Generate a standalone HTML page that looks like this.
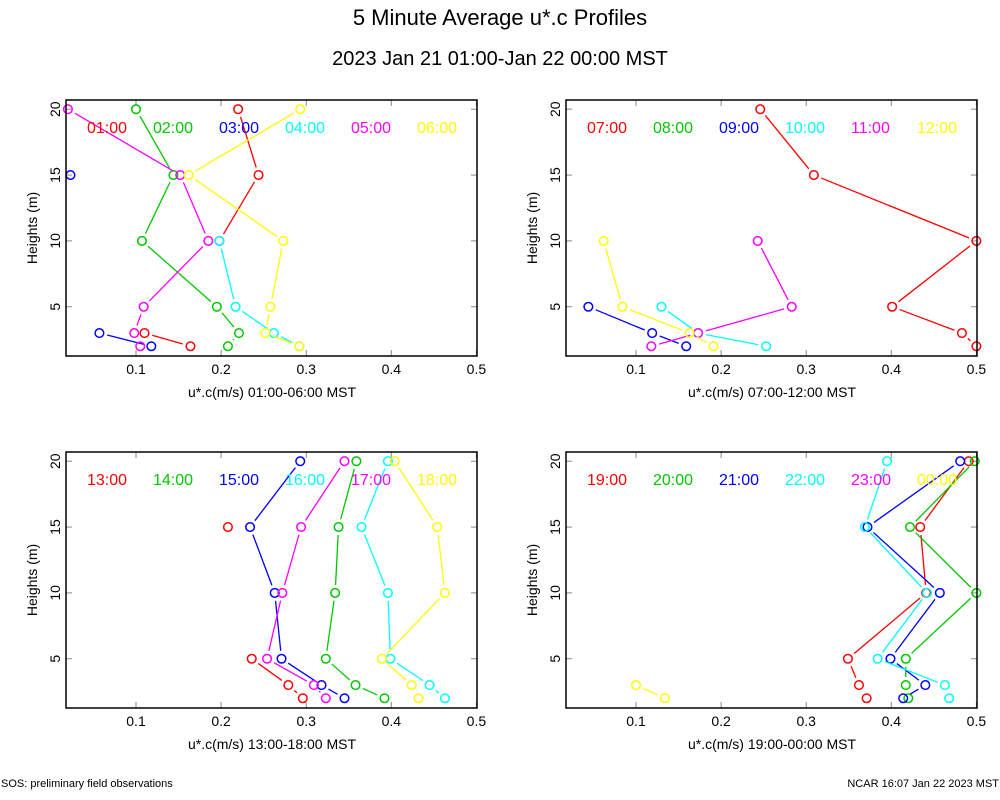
<!DOCTYPE html>
<html><head><meta charset="utf-8"><style>
html,body{margin:0;padding:0;background:#fff;}
svg{display:block;font-family:"Liberation Sans",sans-serif;}
</style></head><body>
<svg id="chart" width="1000" height="800" viewBox="0 0 1000 800" xmlns="http://www.w3.org/2000/svg">
<text x="500" y="25" font-size="22" text-anchor="middle">5 Minute Average u*.c Profiles</text>
<text x="500" y="65" font-size="20" text-anchor="middle">2023 Jan 21 01:00-Jan 22 00:00 MST</text>
<text x="1" y="787" font-size="11">SOS: preliminary field observations</text>
<text x="999" y="787" font-size="11" text-anchor="end">NCAR 16:07 Jan 22 2023 MST</text>
</svg>
<script>
const heights = [2, 3, 5, 10, 15, 20];
const xTicks = [0.1, 0.2, 0.3, 0.4, 0.5];
const yTicks = [5, 10, 15, 20];
const colors = ['#ff0000', '#00c800', '#0000ff', '#00ffff', '#ff00ff', '#ffff00'];
const panelTitles = ['u*.c(m/s) 01:00-06:00 MST', 'u*.c(m/s) 07:00-12:00 MST', 'u*.c(m/s) 13:00-18:00 MST', 'u*.c(m/s) 19:00-00:00 MST'];
const labels1 = ['01:00', '02:00', '03:00', '04:00', '05:00', '06:00'];
const labels2 = ['07:00', '08:00', '09:00', '10:00', '11:00', '12:00'];
const labels3 = ['13:00', '14:00', '15:00', '16:00', '17:00', '18:00'];
const labels4 = ['19:00', '20:00', '21:00', '22:00', '23:00', '00:00'];
const N = null;
const panel1 = [
  [0.164, 0.110, N, 0.198, 0.244, 0.220],
  [0.208, 0.221, 0.195, 0.107, 0.144, 0.100],
  [0.118, 0.057, N, N, 0.023, N],
  [0.292, 0.262, 0.217, 0.198, N, N],
  [0.105, 0.098, 0.109, 0.185, 0.152, 0.020],
  [0.292, 0.252, 0.258, 0.273, 0.162, 0.293]
];
const panel2 = [
  [0.500, 0.483, 0.401, 0.500, 0.309, 0.246],
  [N, N, N, N, N, N],
  [0.159, 0.119, 0.044, N, N, N],
  [0.253, 0.173, 0.130, N, N, N],
  [0.118, 0.173, 0.283, 0.243, N, N],
  [0.191, 0.163, 0.084, 0.062, N, N]
];
const panel3 = [
  [0.296, 0.279, 0.236, N, 0.208, N],
  [0.392, 0.358, 0.323, 0.334, 0.338, 0.359],
  [0.345, 0.318, 0.271, 0.263, 0.234, 0.293],
  [0.463, 0.445, 0.399, 0.396, 0.365, 0.396],
  [0.323, 0.309, 0.254, 0.272, 0.294, 0.345],
  [0.432, 0.424, 0.389, 0.463, 0.454, 0.404]
];
const panel4 = [
  [0.371, 0.362, 0.349, 0.441, 0.434, 0.491],
  [0.420, 0.417, 0.417, 0.500, 0.422, 0.498],
  [0.414, 0.440, 0.399, 0.457, 0.372, 0.481],
  [0.468, 0.463, 0.384, 0.442, 0.369, 0.395],
  [N, N, N, N, N, N],
  [0.134, 0.100, N, N, N, N]
];
const panels = [
  {ox: 0, oy: 0, data: panel1, labels: labels1, title: panelTitles[0], name: 'panel-01-06'},
  {ox: 500, oy: 352, data: panel4, labels: labels4, title: panelTitles[3], name: 'panel-19-00'},
  {ox: 500, oy: 0, data: panel2, labels: labels2, title: panelTitles[1], name: 'panel-07-12'},
  {ox: 0, oy: 352, data: panel3, labels: labels3, title: panelTitles[2], name: 'panel-13-18'}
];
const NS = 'http://www.w3.org/2000/svg';
const svg = document.getElementById('chart');
function mk(tag, attrs, parent) {
  const e = document.createElementNS(NS, tag);
  for (const k in attrs) e.setAttribute(k, attrs[k]);
  parent.appendChild(e);
  return e;
}
const L = 66, R = 477, T = 100, B = 356;
function xs(v, ox) { return ox + 50.9 + v * 851; }
function ys(h, oy) { return oy + 372.6 - h * 13.17; }
panels.forEach(p => {
  const g = mk('g', {}, svg);
  
  
  const ox = p.ox, oy = p.oy;
  // ticks
  xTicks.forEach(t => {
    const x = xs(t, ox);
    mk('line', {x1: x, x2: x, y1: oy + B, y2: oy + B - 6, stroke: '#888', 'stroke-width': 1}, g);
    mk('line', {x1: x, x2: x, y1: oy + T, y2: oy + T + 6, stroke: '#888', 'stroke-width': 1}, g);
    const tl = mk('text', {x: x, y: oy + 374, 'font-size': 14, 'text-anchor': 'middle'}, g);
    
    
    tl.textContent = String(t);
  });
  yTicks.forEach(t => {
    const y = ys(t, oy);
    mk('line', {x1: ox + L, x2: ox + L + 6, y1: y, y2: y, stroke: '#888', 'stroke-width': 1}, g);
    mk('line', {x1: ox + R, x2: ox + R - 6, y1: y, y2: y, stroke: '#888', 'stroke-width': 1}, g);
    const tl = mk('text', {x: 0, y: 0, 'font-size': 14, 'text-anchor': 'middle', transform: `translate(${ox + 60},${y}) rotate(-90)`}, g);
    
    
    tl.textContent = String(t);
  });
  const yl = mk('text', {x: 0, y: 0, 'font-size': 14, 'text-anchor': 'middle', transform: `translate(${ox + 37},${oy + 228}) rotate(-90)`}, g);
  
  
  yl.textContent = 'Heights (m)';
  const xl = mk('text', {x: ox + 272, y: oy + 397, 'font-size': 14, 'text-anchor': 'middle'}, g);
  
  
  xl.textContent = p.title;
  // clip
  const cid = 'clip' + p.name;
  const cp = mk('clipPath', {id: cid}, g);
  mk('rect', {x: ox + L - 5, y: oy + T - 5, width: R - L + 10, height: B - T + 10}, cp);
  const pg = mk('g', {'clip-path': `url(#${cid})`}, g);
  p.data.forEach((series, si) => {
    const col = colors[si];
    const sg = mk('g', {}, pg);
    
    
    for (let i = 0; i < heights.length - 1; i++) {
      const a = series[i], b = series[i + 1];
      if (a === null || b === null) continue;
      const x1 = xs(a, ox), y1 = ys(heights[i], oy), x2 = xs(b, ox), y2 = ys(heights[i + 1], oy);
      const d = Math.hypot(x2 - x1, y2 - y1);
      const gap = 8;
      if (d <= 2 * gap) continue;
      const ux = (x2 - x1) / d, uy = (y2 - y1) / d;
      mk('line', {x1: x1 + ux * gap, y1: y1 + uy * gap, x2: x2 - ux * gap, y2: y2 - uy * gap, stroke: col, 'stroke-width': 1.3}, sg);
    }
    series.forEach((v, i) => {
      if (v === null) return;
      const c = mk('circle', {cx: xs(v, ox), cy: ys(heights[i], oy), r: 4.3, fill: 'none', stroke: col, 'stroke-width': 1.5}, sg);
      
      
    });
    const lt = mk('text', {x: ox + 87 + si * 66, y: oy + 133, 'font-size': 16, fill: col}, g);
    
    
    lt.textContent = p.labels[si];
  });
  mk('rect', {x: ox + L, y: oy + T, width: R - L, height: B - T, fill: 'none', stroke: '#000', 'stroke-width': 1.5}, g);
});
</script>
</body></html>
